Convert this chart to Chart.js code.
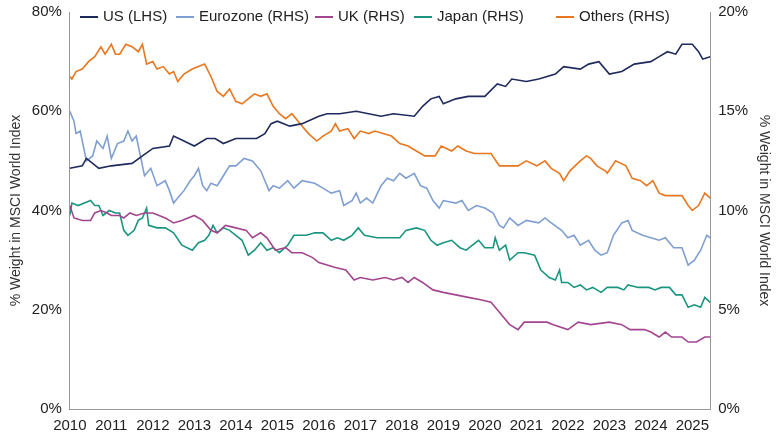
<!DOCTYPE html>
<html><head><meta charset="utf-8">
<script src="https://cdn.jsdelivr.net/npm/chart.js@4"></script>
<style>html,body{margin:0;padding:0;background:#fff}#w{width:780px;height:440px}</style>
</head><body><div id="w"><canvas id="c"></canvas></div>
<script>
const xTicks = [2010,2011,2012,2013,2014,2015,2016,2017,2018,2019,2020,2021,2022,2023,2024,2025];
const usX = [2010,2010.3,2010.4,2010.7,2011,2011.5,2011.75,2012,2012.4,2012.5,2012.75,2013,2013.3,2013.5,2013.7,2014,2014.5,2014.7,2014.85,2015,2015.3,2015.6,2016,2016.2,2016.5,2016.9,2017.2,2017.5,2017.8,2018.3,2018.5,2018.7,2018.9,2019,2019.3,2019.6,2020,2020.3,2020.5,2020.65,2021,2021.3,2021.7,2021.9,2022.3,2022.5,2022.75,2023,2023.3,2023.6,2024,2024.2,2024.4,2024.6,2024.75,2025,2025.15,2025.25,2025.43];
const usV = [48.5,49,50.5,48.5,49,49.5,51,52.5,53,55,54,53,54.5,54.5,53.5,54.5,54.5,55.5,57.5,58,57,57.5,59,59.5,59.5,60,59.5,59,59.5,59,61,62.5,63,61.5,62.5,63,63,65.5,65,66.5,66,66.5,67.5,69,68.5,69.5,70,67.5,68,69.5,70,71,72,71.5,73.5,73.5,72,70.5,71];
const ezX = [2010,2010.1,2010.15,2010.25,2010.4,2010.55,2010.65,2010.8,2010.9,2011,2011.15,2011.3,2011.4,2011.5,2011.6,2011.8,2011.95,2012.1,2012.3,2012.4,2012.5,2012.6,2012.75,2012.9,2013,2013.1,2013.2,2013.3,2013.4,2013.55,2013.7,2013.85,2014,2014.2,2014.4,2014.6,2014.7,2014.8,2014.9,2015.05,2015.25,2015.4,2015.6,2015.9,2016.1,2016.3,2016.5,2016.6,2016.8,2016.9,2017,2017.15,2017.3,2017.5,2017.65,2017.8,2017.95,2018.1,2018.3,2018.45,2018.6,2018.75,2018.9,2019,2019.3,2019.45,2019.6,2019.8,2020,2020.2,2020.35,2020.45,2020.6,2020.8,2021,2021.3,2021.45,2021.6,2021.85,2022,2022.15,2022.3,2022.5,2022.65,2022.8,2022.95,2023.1,2023.3,2023.45,2023.55,2023.8,2024,2024.2,2024.35,2024.55,2024.75,2024.9,2025.05,2025.2,2025.35,2025.43];
const ezV = [15,14.5,13.875,14,12.5,12.75,13.5,13.125,13.75,12.625,13.375,13.5,14,13.5,13.75,11.75,12.125,11.25,11.5,11,10.375,10.625,11,11.5,11.75,12.125,11.25,11,11.375,11.25,11.75,12.25,12.25,12.625,12.5,12,11.5,11,11.25,11.125,11.5,11.125,11.5,11.375,11.125,10.875,11,10.25,10.5,10.875,10.375,10.625,10.375,11.25,11.625,11.5,11.875,11.625,11.875,11.25,11.125,10.5,10.125,10.5,10.375,10.5,10,10.25,10.125,9.875,9.25,9.125,9.625,9.25,9.5,9.375,9.625,9.375,9,8.625,8.75,8.25,8.5,8,7.75,7.875,8.75,9.375,9.5,9,8.75,8.625,8.5,8.625,8.125,8.125,7.25,7.5,8,8.75,8.625];
const ukX = [2010,2010.1,2010.3,2010.5,2010.6,2010.75,2010.9,2011,2011.2,2011.3,2011.45,2011.6,2011.8,2012,2012.3,2012.4,2012.5,2012.7,2013,2013.2,2013.4,2013.55,2013.75,2014,2014.25,2014.4,2014.6,2014.75,2014.95,2015.2,2015.35,2015.6,2015.85,2016,2016.2,2016.4,2016.65,2016.85,2017,2017.3,2017.6,2017.8,2018,2018.15,2018.3,2018.5,2018.75,2019,2019.3,2019.6,2019.9,2020.15,2020.4,2020.6,2020.8,2020.95,2021.5,2021.65,2022,2022.25,2022.55,2023,2023.3,2023.5,2023.85,2024,2024.2,2024.35,2024.5,2024.75,2024.9,2025.1,2025.3,2025.43];
const ukV = [10.25,9.625,9.5,9.5,9.875,10,9.875,9.75,9.75,9.625,9.875,9.75,9.875,9.875,9.625,9.5,9.375,9.5,9.75,9.5,9,8.875,9.25,9.125,9,8.625,8.875,8.625,8,8.125,7.875,7.875,7.625,7.375,7.25,7.125,7,6.5,6.625,6.5,6.625,6.5,6.625,6.375,6.625,6.375,6,5.875,5.75,5.625,5.5,5.375,4.75,4.25,4,4.375,4.375,4.25,4,4.375,4.25,4.375,4.25,4,4,3.875,3.625,3.875,3.625,3.625,3.375,3.375,3.625,3.625];
const jpX = [2010,2010.05,2010.2,2010.35,2010.5,2010.6,2010.7,2010.8,2010.95,2011.1,2011.2,2011.3,2011.4,2011.55,2011.65,2011.75,2011.85,2011.9,2012.1,2012.3,2012.5,2012.7,2012.95,2013.1,2013.25,2013.35,2013.45,2013.55,2013.7,2013.85,2014,2014.15,2014.3,2014.45,2014.6,2014.75,2014.9,2015.05,2015.25,2015.4,2015.7,2015.9,2016.1,2016.3,2016.45,2016.6,2016.8,2016.95,2017.1,2017.4,2017.7,2017.95,2018.1,2018.35,2018.55,2018.7,2018.85,2019,2019.2,2019.4,2019.55,2019.7,2019.85,2020,2020.2,2020.25,2020.35,2020.5,2020.6,2020.8,2020.95,2021.2,2021.35,2021.55,2021.7,2021.8,2021.85,2022,2022.15,2022.3,2022.45,2022.6,2022.8,2022.95,2023.2,2023.35,2023.45,2023.7,2023.95,2024.1,2024.25,2024.45,2024.6,2024.75,2024.9,2025.05,2025.2,2025.3,2025.43];
const jpV = [9.75,10.375,10.25,10.375,10.5,10.25,10.25,9.75,10,9.875,9.875,9,8.75,9,9.5,9.625,10.125,9.25,9.125,9.125,8.875,8.25,8,8.375,8.5,8.75,9.25,8.875,9.125,9,8.75,8.5,7.75,8,8.375,8,8.125,7.875,8.25,8.75,8.75,8.875,8.875,8.5,8.625,8.5,8.75,9.125,8.75,8.625,8.625,8.625,9,9.125,9,8.5,8.25,8.375,8.5,8.125,8,8.25,8.5,8.125,8.125,8.625,8,8.25,7.5,7.875,7.875,7.75,7,6.625,6.5,7,6.375,6.375,6.125,6.25,6,6.125,5.875,6.125,6.125,6,6.25,6.125,6.125,6,6.125,6.125,5.75,5.75,5.125,5.25,5.125,5.625,5.375];
const otX = [2010,2010.05,2010.15,2010.3,2010.45,2010.6,2010.75,2010.85,2011,2011.1,2011.2,2011.35,2011.5,2011.65,2011.75,2011.85,2012,2012.1,2012.25,2012.4,2012.5,2012.6,2012.75,2012.95,2013.1,2013.25,2013.4,2013.55,2013.7,2013.85,2014,2014.15,2014.3,2014.45,2014.6,2014.75,2014.9,2015.05,2015.2,2015.35,2015.55,2015.75,2015.95,2016.1,2016.3,2016.4,2016.5,2016.7,2016.85,2017,2017.2,2017.35,2017.55,2017.75,2017.95,2018.15,2018.35,2018.55,2018.8,2018.95,2019.2,2019.35,2019.55,2019.75,2019.95,2020.15,2020.35,2020.55,2020.8,2021,2021.25,2021.45,2021.6,2021.8,2021.9,2022.05,2022.3,2022.45,2022.55,2022.7,2022.9,2022.95,2023.15,2023.4,2023.55,2023.75,2023.9,2024.05,2024.2,2024.35,2024.55,2024.75,2024.9,2025,2025.15,2025.3,2025.43];
const otV = [16.75,16.625,17,17.125,17.5,17.75,18.25,17.875,18.375,17.875,17.875,18.375,18.25,18,18.375,17.375,17.5,17.125,17.25,16.875,17,16.5,16.875,17.125,17.25,17.375,16.75,16,15.75,16.125,15.5,15.375,15.625,15.875,15.75,15.875,15.25,14.875,14.625,14.875,14.375,13.875,13.5,13.75,14,14.375,14,14.125,13.625,14,13.875,14,13.875,13.75,13.375,13.25,13,12.75,12.75,13.25,13,13.25,13,12.875,12.875,12.875,12.25,12.25,12.25,12.5,12.25,12.5,12.125,11.875,11.5,12,12.5,12.75,12.625,12.25,12,11.875,12.5,12.25,11.625,11.5,11.25,11.5,10.875,10.75,10.75,10.75,10.25,10,10.25,10.875,10.625];
const pts = (xs, vs) => xs.map((x, i) => ({x, y: vs[i]}));
const FONT = "'Liberation Sans Narrow', 'Liberation Sans', sans-serif";
const series = [
  {label:'US (LHS)', xs:usX, vs:usV, color:'#1f2a5c', axis:'y'},
  {label:'Eurozone (RHS)', xs:ezX, vs:ezV, color:'#7f9fd2', axis:'y2'},
  {label:'UK (RHS)', xs:ukX, vs:ukV, color:'#a3468f', axis:'y2'},
  {label:'Japan (RHS)', xs:jpX, vs:jpV, color:'#1a9580', axis:'y2'},
  {label:'Others (RHS)', xs:otX, vs:otV, color:'#e8771f', axis:'y2'}
];
const legendPlugin = {
  id:'overLegend',
  afterDraw(chart){
    const ctx = chart.ctx; ctx.save();
    ctx.font = '15px ' + FONT; ctx.textBaseline = 'middle';
    const startX = [80,176,315,414,556];
    series.forEach((s,i)=>{
      const x = startX[i], y = 17;
      ctx.strokeStyle = s.color; ctx.lineWidth = 2;
      ctx.beginPath(); ctx.moveTo(x, y); ctx.lineTo(x+18, y); ctx.stroke();
      ctx.fillStyle = '#222'; ctx.fillText(s.label, x+23, y);
    });
    ctx.restore();
  }
};
new Chart(document.getElementById('c'), {
  type:'line',
  data:{datasets: series.map(s=>({label:s.label, data:pts(s.xs,s.vs), borderColor:s.color, backgroundColor:s.color, borderWidth:1.6, pointRadius:0, tension:0, yAxisID:s.axis}))},
  options:{
    responsive:true, maintainAspectRatio:false, animation:false,
    layout:{padding:{left:4,right:4,top:4,bottom:2}},
    plugins:{legend:{display:false}, tooltip:{enabled:false}},
    scales:{
      x:{type:'linear', min:2010, max:2025.43,
        afterBuildTicks(a){a.ticks = xTicks.map(v=>({value:v}));},
        grid:{display:false, drawTicks:true, tickLength:5, color:'#999'},
        border:{color:'#999'},
        ticks:{color:'#222', font:{family:FONT, size:15}, maxRotation:0, autoSkip:false, callback:v=>String(v)}},
      y:{position:'left', min:0, max:80, ticks:{stepSize:20, color:'#222', font:{family:FONT, size:15}, callback:v=>v+'%'},
        grid:{display:false, drawTicks:true, tickLength:5}, border:{color:'#999'},
        title:{display:true, text:'% Weight in MSCI World Index', color:'#333', font:{family:FONT, size:14}}},
      y2:{position:'right', min:0, max:20, ticks:{stepSize:5, color:'#222', font:{family:FONT, size:15}, callback:v=>v+'%'},
        grid:{display:false, drawTicks:true, tickLength:5}, border:{color:'#999'},
        title:{display:true, text:'% Weight in MSCI World Index', color:'#333', font:{family:FONT, size:14}}}
    }
  },
  plugins:[legendPlugin]
});
</script></body></html>
